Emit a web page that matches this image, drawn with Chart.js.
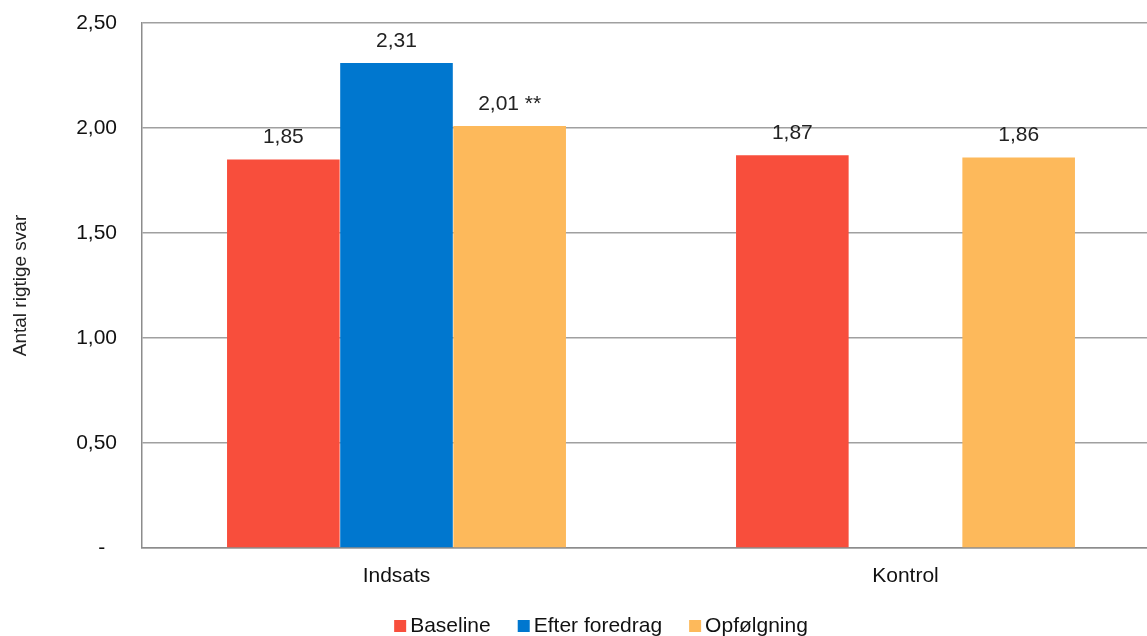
<!DOCTYPE html>
<html>
<head>
<meta charset="utf-8">
<script src="https://cdn.jsdelivr.net/npm/chart.js@4"></script>
<style>
  html, body { margin: 0; padding: 0; background: #fff; overflow: hidden; }
  #wrap { width: 1165px; height: 636px; position: relative; }
</style>
</head>
<body>
<div id="wrap"><canvas id="chart"></canvas></div>
<script>
const categories = ['Indsats', 'Kontrol'];
const seriesNames = ['Baseline', 'Efter foredrag', 'Opfølgning'];
const baseline = [1.85, 1.87];
const efterForedrag = [2.31, null];
const opfoelgning = [2.01, 1.86];
// ekstra tekst efter værdien (signifikans)
const opfoelgningMarks = [' **', ''];
const yTicks = [0, 0.5, 1, 1.5, 2, 2.5];

const colors = ['#F84E3C', '#0077CF', '#FDB95B'];
const fontFamily = 'Arial, "Liberation Sans", sans-serif';
const fontSize = 21;

// regnskabsformat: nul vises som streg med luft efter
const fmt = v => v === 0 ? '-  ' : v.toFixed(2).replace('.', ',');

// tegner værdierne over søjlerne
const valueLabels = {
  id: 'valueLabels',
  afterDatasetsDraw(chart) {
    const ctx = chart.ctx;
    ctx.save();
    ctx.font = fontSize + 'px ' + fontFamily;
    ctx.fillStyle = '#222';
    ctx.textAlign = 'center';
    ctx.textBaseline = 'middle';
    chart.data.datasets.forEach((ds, i) => {
      chart.getDatasetMeta(i).data.forEach((bar, j) => {
        const v = ds.data[j];
        if (v == null) return;
        const extra = ds.marks ? ds.marks[j] : '';
        ctx.fillText(fmt(v) + extra, bar.x, bar.y - 22);
      });
    });
    ctx.restore();
  }
};

// enkel forklaring i bunden: firkant tæt på teksten, luft mellem punkterne
const bottomLegend = {
  id: 'bottomLegend',
  afterDraw(chart) {
    const ctx = chart.ctx;
    const box = 12, gap = 4, spacing = 27, center = 601, baselineY = 632;
    ctx.save();
    ctx.font = fontSize + 'px ' + fontFamily;
    const items = chart.data.datasets.map(ds => ({
      text: ds.label, color: ds.backgroundColor, w: ctx.measureText(ds.label).width
    }));
    const total = items.reduce((s, it) => s + box + gap + it.w, 0) + spacing * (items.length - 1);
    let x = center - total / 2;
    ctx.textBaseline = 'alphabetic';
    ctx.textAlign = 'left';
    items.forEach(it => {
      ctx.fillStyle = it.color;
      ctx.fillRect(x, baselineY - box, box, box);
      ctx.fillStyle = '#111';
      ctx.fillText(it.text, x + box + gap, baselineY);
      x += box + gap + it.w + spacing;
    });
    ctx.restore();
  }
};

new Chart(document.getElementById('chart'), {
  type: 'bar',
  data: {
    labels: categories,
    datasets: [
      { label: seriesNames[0], data: baseline, backgroundColor: colors[0] },
      { label: seriesNames[1], data: efterForedrag, backgroundColor: colors[1] },
      { label: seriesNames[2], data: opfoelgning, backgroundColor: colors[2], marks: opfoelgningMarks }
    ]
  },
  options: {
    responsive: true,
    maintainAspectRatio: false,
    animation: false,
    layout: { padding: { top: 23, right: 5, left: 0, bottom: 44 } },
    datasets: { bar: { barPercentage: 0.995, categoryPercentage: 0.667 } },
    scales: {
      x: {
        grid: { display: false },
        border: { color: '#8c8c8c', width: 1.5 },
        ticks: { color: '#111', font: { size: fontSize, family: fontFamily }, padding: 8 },
        afterFit(scale) { scale.height = 44; }
      },
      y: {
        min: 0,
        max: 2.5,
        afterBuildTicks(scale) { scale.ticks = yTicks.map(v => ({ value: v })); },
        grid: { color: '#a0a0a0', lineWidth: 1.5, drawTicks: false },
        border: { color: '#8c8c8c', width: 1.5 },
        ticks: {
          color: '#111',
          font: { size: fontSize, family: fontFamily },
          padding: 25,
          callback: v => fmt(v)
        },
        title: {
          display: true,
          text: 'Antal rigtige svar',
          color: '#222',
          font: { size: 19, family: fontFamily },
          padding: { top: 9, bottom: 0 }
        },
        afterFit(scale) {
          scale.width = 142;
          scale.paddingTop = 0;
          scale.paddingBottom = 0;
        }
      }
    },
    plugins: {
      legend: { display: false },
      tooltip: { enabled: false }
    }
  },
  plugins: [valueLabels, bottomLegend]
});
</script>
</body>
</html>
